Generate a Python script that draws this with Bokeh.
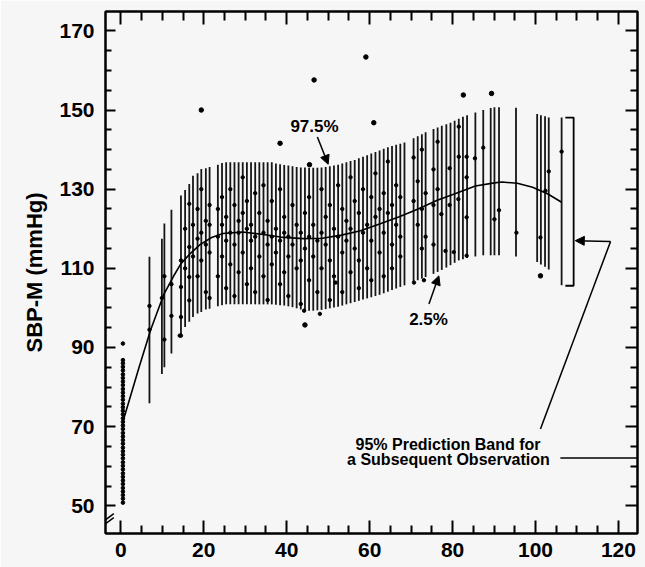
from bokeh.plotting import figure
from bokeh.models import Range1d, FixedTicker, LinearAxis, Arrow, NormalHead, Label
from bokeh.embed import file_html
from bokeh.resources import INLINE

# ---------------- data ----------------
x_major = [0, 20, 40, 60, 80, 100, 120]
x_minor = [5, 10, 15, 25, 30, 35, 45, 50, 55, 65, 70, 75, 85, 90, 95, 105, 110, 115]
y_major = [50, 70, 90, 110, 130, 150, 170]
y_minor = [55, 60, 65, 75, 80, 85, 95, 100, 105, 115, 120, 125, 135, 140, 145, 155, 160, 165]

# 95% prediction band drawn at each observed age (2.5% .. 97.5%)
bar_x = [6.9, 9.9, 10.5, 12.2,
         14.5, 15.5, 16.5, 17.4, 18.5, 19.4, 20.5, 21.4,
         23.4, 24.4, 25.4, 26.4, 27.4, 28.4, 29.4, 30.4, 31.4, 32.4, 33.4, 34.4, 35.4, 36.4,
         37.4, 38.4, 39.4, 40.4, 41.4, 42.4, 43.4, 44.4, 45.4, 46.4, 47.4, 48.4, 49.4, 50.4,
         51.4, 52.4, 53.4, 54.4, 55.4, 56.4, 57.4, 58.4, 59.4, 60.4, 61.4, 62.4, 63.4, 64.4,
         65.4, 66.4, 67.4, 68.4,
         70.6, 71.6, 72.6, 73.5,
         75.4, 76.4, 77.4, 78.5, 79.5, 80.5, 81.5, 82.5, 83.5,
         85.5, 87.4, 89.2, 90.1, 91.2,
         95.3,
         100.4, 101.3, 102.3, 103.2,
         106.3]
bar_lo = [75.9, 83.3, 85.0, 88.5,
          93.1, 95.2, 96.5, 97.7, 98.6, 99.0, 99.6, 99.8,
          100.4, 100.7, 100.9, 100.9, 100.9, 100.9, 100.9, 100.9, 100.9, 100.9, 100.9, 100.9, 100.9, 100.9,
          100.8, 100.7, 100.6, 100.4, 100.2, 99.9, 99.6, 99.4, 99.3, 99.3, 99.4, 99.5, 99.7, 99.9,
          100.1, 100.3, 100.6, 100.9, 101.2, 101.5, 101.8, 102.1, 102.4, 102.7, 103.0, 103.3, 103.7, 104.1,
          104.5, 104.9, 105.3, 105.7,
          106.6, 107.0, 107.4, 107.8,
          108.6, 109.1, 109.6, 110.2, 110.8, 111.4, 112.0, 112.3, 112.6,
          113.0, 113.3, 113.3, 113.3, 113.3,
          113.0,
          111.6, 111.0, 110.4, 109.7,
          105.7]
bar_hi = [112.9, 117.5, 121.3, 124.8,
          128.4, 129.8, 131.3, 133.4, 134.0, 135.1, 135.3, 135.6,
          136.2, 136.6, 136.8, 136.8, 136.8, 136.8, 136.8, 136.8, 136.8, 136.8, 136.8, 136.8, 136.8, 136.8,
          136.5, 136.3, 136.1, 136.0, 135.8, 135.6, 135.5, 135.5, 135.4, 135.4, 135.4, 135.5, 135.6, 135.8,
          136.0, 136.2, 136.5, 136.8, 137.1, 137.4, 137.8, 138.2, 138.6, 139.0, 139.4, 139.8, 140.2, 140.6,
          140.9, 141.2, 141.5, 141.8,
          142.9, 143.4, 143.9, 144.4,
          145.2, 145.6, 146.0, 146.4, 146.8, 147.3, 147.8, 148.3, 148.7,
          149.4, 150.0, 150.5, 150.7, 150.7,
          150.6,
          149.0, 148.7, 148.4, 148.1,
          148.1]

# fitted mean curve
mean_x = [0.4, 0.8, 4.4, 7.2, 10.4, 12.7, 14.5, 16.8, 19.1, 21.9, 24.6, 29.3, 33.9, 38.5, 44.0,
          48.6, 53.2, 57.8, 62.4, 67.0, 71.7, 76.3, 80.9, 85.5, 90.1, 91.9, 95.6, 99.3, 103.0, 106.3]
mean_y = [70.5, 72.3, 85.0, 94.5, 103.5, 108.0, 111.2, 113.8, 116.0, 117.8, 118.8, 119.2, 118.6, 117.9, 117.5,
          117.6, 118.4, 119.5, 121.2, 123.0, 125.0, 127.2, 129.0, 130.8, 131.6, 131.8, 131.5, 130.5, 128.8, 126.7]

# observations at birth (dense column)
birth_y = [50.8, 51.8, 52.7, 53.6, 54.5, 55.5, 56.4, 57.3, 58.2, 59.2, 60.1, 61.0, 62.0, 62.9, 63.8,
           64.7, 65.7, 66.6, 67.5, 68.4, 69.4, 70.3, 71.2, 72.1, 73.1, 74.0, 74.9, 75.8, 76.8, 77.7,
           78.6, 79.5, 80.5, 81.4, 82.3, 83.2, 84.2, 85.1, 86.0, 86.8, 91.0]
birth_x = [0.5] * len(birth_y)

# later observations
obs_x = [
    6.9, 6.9, 9.9, 10.5, 10.5, 12.2, 12.2,
    14.5, 14.5, 14.5, 14.5, 15.5, 15.5, 16.5, 16.5, 16.5, 16.5, 17.4, 17.4,
    18.5, 18.5, 18.5, 19.4, 19.4, 19.4, 20.5, 20.5, 20.5, 21.4, 21.4, 21.4, 21.4,
    23.4, 23.4, 23.4, 24.4, 24.4, 24.4, 25.4, 25.4, 25.4, 26.4, 26.4, 26.4, 27.4, 27.4, 27.4,
    28.4, 28.4, 28.4, 29.4, 29.4, 29.4, 30.4, 30.4, 30.4, 31.4, 31.4, 31.4, 32.4, 32.4, 32.4,
    33.4, 33.4, 34.4, 34.4, 34.4, 35.4, 35.4, 35.4, 36.4, 36.4, 36.4, 37.4, 37.4,
    38.4, 38.4, 38.4, 39.4, 39.4, 39.4, 40.4, 40.4, 40.4, 41.4, 41.4, 42.4, 42.4,
    43.4, 43.4, 43.4, 44.4, 44.4, 45.4, 45.4, 45.4, 46.4, 46.4, 47.4, 47.4,
    48.4, 48.4, 48.4, 49.4, 49.4, 50.4, 50.4, 50.4, 51.4, 51.4, 52.4, 52.4,
    53.4, 53.4, 53.4, 54.4, 54.4, 55.4, 55.4, 55.4, 56.4, 56.4, 57.4, 57.4, 57.4,
    58.4, 58.4, 59.4, 59.4, 60.4, 60.4, 60.4, 61.4, 61.4, 62.4, 62.4,
    63.4, 63.4, 63.4, 64.4, 64.4, 65.4, 65.4, 65.4, 66.4, 66.4, 67.4, 67.4, 67.4,
    70.6, 70.6, 71.6, 71.6, 72.6, 72.6, 72.6, 73.5, 73.5, 75.4, 75.4, 75.4, 76.4, 76.4,
    77.3, 78.3, 79.3, 79.3, 80.3, 81.4, 81.5, 81.5, 83.4, 83.4, 83.4, 83.4,
    85.4, 87.4, 90.1, 91.2, 95.4, 101.2, 102.4, 103.2, 106.3,
    44.2, 48.0, 51.8, 70.7, 73.1, 14.2]
obs_y = [
    100.5, 94.5, 102.5, 92.0, 108.0, 106.0, 98.0,
    112.0, 105.3, 97.7, 93.0, 110.0, 120.0, 126.3, 115.4, 107.8, 101.9, 113.0, 121.0,
    125.0, 117.5, 108.0, 119.0, 112.0, 130.0, 116.0, 122.0, 104.0, 121.0, 126.0, 114.0, 102.5,
    125.0, 118.0, 108.0, 128.0, 121.0, 113.0, 123.0, 117.0, 105.0, 130.0, 119.0, 111.0, 126.0, 116.0, 103.0,
    122.0, 119.0, 109.0, 133.0, 124.0, 114.0, 127.0, 120.0, 106.0, 121.0, 117.0, 110.0, 129.0, 118.0, 104.0,
    124.0, 113.0, 131.0, 119.0, 108.0, 122.0, 116.0, 102.0, 127.0, 118.0, 111.0, 120.0, 114.0,
    130.0, 117.0, 106.0, 123.0, 119.0, 109.0, 118.0, 113.0, 103.0, 126.0, 116.0, 121.0, 110.0,
    119.0, 112.0, 101.0, 124.0, 115.0, 128.0, 118.0, 107.0, 121.0, 113.0, 117.0, 104.0,
    130.0, 119.0, 110.0, 123.0, 116.0, 126.0, 112.0, 102.0, 120.0, 108.0, 131.0, 118.0,
    125.0, 114.0, 104.0, 122.0, 117.0, 133.0, 120.0, 109.0, 127.0, 115.0, 124.0, 112.0, 105.0,
    130.0, 119.0, 121.0, 110.0, 128.0, 117.0, 107.0, 134.0, 123.0, 125.0, 114.0,
    129.0, 119.0, 108.0, 137.0, 124.0, 126.0, 116.0, 110.0, 131.0, 121.0, 128.0, 118.0, 113.0,
    138.0, 127.0, 132.0, 121.0, 140.0, 125.0, 115.0, 129.0, 118.0, 135.0, 126.0, 116.0, 142.0, 130.0,
    123.7, 114.4, 135.3, 126.0, 114.1, 127.5, 145.8, 138.2, 138.2, 133.0, 122.9, 113.2,
    137.8, 140.5, 122.4, 124.7, 119.0, 117.8, 129.6, 134.5, 139.5,
    99.3, 98.5, 106.4, 106.4, 107.0, 93.0]

# isolated observations outside the band
out_x = [19.4, 46.6, 38.4, 59.1, 61.0, 82.6, 89.4, 101.2, 44.4, 45.5]
out_y = [150.0, 157.6, 141.6, 163.4, 146.8, 153.8, 154.2, 108.1, 95.7, 136.2]

# ---------------- figure ----------------
FONT = "Liberation Sans"
BG = "#f6f6f6"
X0, X1, Y0, Y1 = -3.7, 124.6, 43.0, 174.9

p = figure(width=645, height=567, x_range=Range1d(X0, X1), y_range=Range1d(Y0, Y1),
           output_backend="svg", toolbar_location=None,
           min_border_left=105, min_border_right=8, min_border_top=11, min_border_bottom=34,
           background_fill_color=BG, border_fill_color=BG)
p.grid.visible = False
p.outline_line_color = "black"
p.outline_line_width = 2

for ax, maj, mnr in ((p.xaxis[0], x_major, x_minor), (p.yaxis[0], y_major, y_minor)):
    ax.ticker = FixedTicker(ticks=maj, minor_ticks=mnr)
    ax.major_tick_out = 0
    ax.minor_tick_out = 0
    ax.axis_line_width = 2
    ax.major_tick_line_width = 2
    ax.minor_tick_line_width = 2
    ax.major_label_text_font = FONT
    ax.major_label_text_font_style = "bold"
    ax.major_label_text_font_size = "21px"
    ax.major_label_text_color = "black"

p.xaxis.major_tick_in = 13
p.xaxis.minor_tick_in = 8
p.xaxis.major_label_standoff = 9
p.yaxis.major_tick_in = 10
p.yaxis.minor_tick_in = 6
p.yaxis.major_label_standoff = 11
p.yaxis.axis_label = "SBP-M (mmHg)"
p.yaxis.axis_label_text_font = FONT
p.yaxis.axis_label_text_font_style = "bold"
p.yaxis.axis_label_text_font_size = "22px"
p.yaxis.axis_label_text_color = "black"
p.yaxis.axis_label_standoff = 9

# companion axes on the top and right edges: inward ticks only
top = LinearAxis(ticker=FixedTicker(ticks=x_major, minor_ticks=x_minor),
                 major_label_text_font_size="0px", major_label_standoff=0,
                 major_tick_out=0, minor_tick_out=0, major_tick_in=13, minor_tick_in=9,
                 axis_line_width=2, major_tick_line_width=2, minor_tick_line_width=2)
right = LinearAxis(ticker=FixedTicker(ticks=y_major, minor_ticks=y_minor),
                   major_label_text_font_size="0px", major_label_standoff=0,
                   major_tick_out=0, minor_tick_out=0, major_tick_in=12, minor_tick_in=7,
                   axis_line_width=2, major_tick_line_width=2, minor_tick_line_width=2)
p.add_layout(top, "above")
p.add_layout(right, "right")

# prediction band bars
p.segment(x0=bar_x, y0=bar_lo, x1=bar_x, y1=bar_hi, line_width=1.8, line_color="#161616")
# observations
p.scatter(birth_x, birth_y, size=3.6, color="black")
p.scatter(obs_x, obs_y, size=3.4, color="black")
p.scatter(out_x, out_y, size=4.5, color="black")
# mean curve
p.line(mean_x, mean_y, line_width=1.6, line_color="black")

# bracket marking the band
p.line([107.2, 109.2, 109.2, 107.2], [148.1, 148.1, 105.6, 105.6], line_width=1.8, line_color="black")

# annotations
def arrow(x0, y0, x1, y1, head=True):
    p.add_layout(Arrow(end=NormalHead(size=9, fill_color="black", line_color="black") if head else None,
                       x_start=x0, y_start=y0, x_end=x1, y_end=y1,
                       line_width=1.5, line_color="black"))

arrow(47.4, 143.2, 50.0, 136.3)
arrow(74.3, 101.0, 76.7, 108.1)
arrow(118.1, 116.8, 109.6, 117.0)
arrow(118.1, 116.8, 101.2, 69.4, head=False)
arrow(106.0, 62.1, 126.5, 62.1, head=False)
# axis break marks
arrow(-4.8, 45.6, -1.7, 48.0, head=False)
arrow(-4.8, 44.6, -1.7, 47.0, head=False)

def label(x, y, text, size):
    p.add_layout(Label(x=x, y=y, text=text, text_align="center", text_baseline="middle",
                       text_font=FONT, text_font_style="bold", text_font_size=size, text_color="black"))

label(46.7, 145.8, "97.5%", "17px")
label(74.2, 97.0, "2.5%", "17px")
label(78.9, 65.5, "95% Prediction Band for", "16px")
label(79.0, 61.7, "a Subsequent Observation", "16px")

open("out.html", "w").write(file_html(p, INLINE))
